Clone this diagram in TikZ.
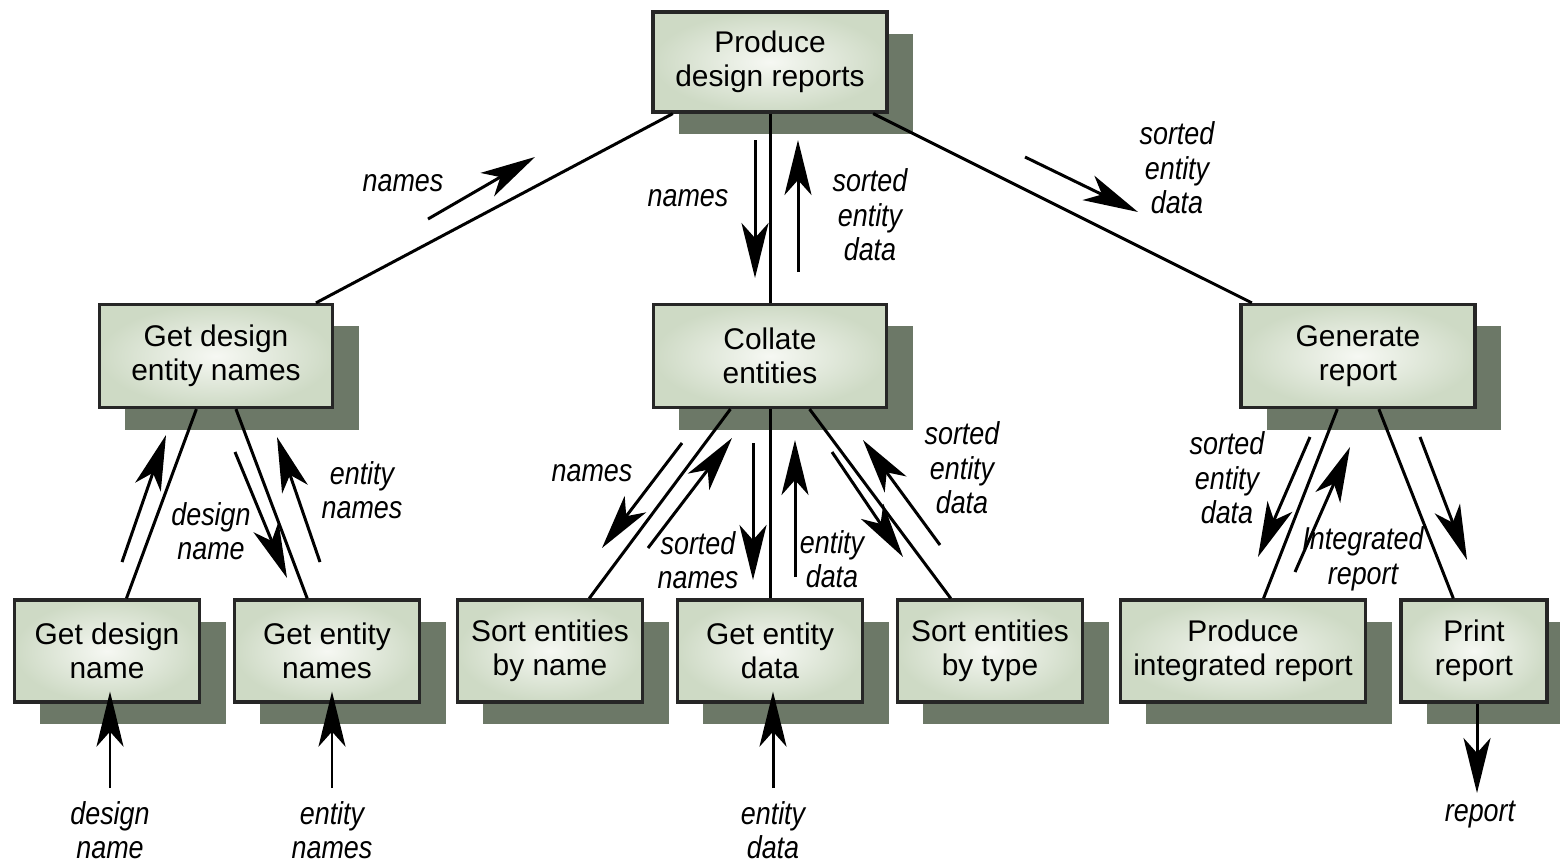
\documentclass[tikz,border=0pt]{standalone}
\usepackage{fontspec}
\setmainfont{Liberation Sans}
\newfontfamily\lblfont{Liberation Sans}[FakeStretch=0.85]
\usetikzlibrary{arrows.meta,shadows}

\definecolor{shadowgreen}{RGB}{108,120,103}
\definecolor{boxin}{RGB}{246,248,243}
\definecolor{boxout}{RGB}{206,218,197}

\tikzset{
  proc/.style={draw=black!85, line width=0.9pt, inner color=boxin, outer color=boxout,
    minimum width=1.85cm, minimum height=1.02cm, align=center,
    font=\fontsize{8.5}{9.7}\selectfont,
    drop shadow={shadow xshift=0.26cm, shadow yshift=-0.22cm, fill=shadowgreen, opacity=1}},
  link/.style={line width=0.85pt},
  flow/.style={line width=0.85pt, -{Stealth[length=0.55cm, width=0.27cm, inset=0.15cm]}},
  lbl/.style={align=center, inner sep=1pt, font=\lblfont\itshape\fontsize{9}{9.8}\selectfont}
}

\begin{document}
\begin{tikzpicture}[x=0.01cm, y=-0.01cm]

\path [use as bounding box] (0,0) rectangle (1560,860);

% BOXES
\node [proc, minimum width=2.34cm, minimum height=1.0cm] (pdr) at (770,62) {Produce\\design reports};

\node [proc, minimum width=2.33cm, minimum height=1.03cm] (gden) at (216,356) {Get design\\entity names};
\node [proc, minimum width=2.33cm, minimum height=1.03cm] (col) at (770,356) {Collate\\entities};
\node [proc, minimum width=2.34cm, minimum height=1.03cm] (gen) at (1358,356) {Generate\\report};

\node [proc] (gdn) at (107,651) {Get design\\name};
\node [proc] (gen2) at (327,651) {Get entity\\names};
\node [proc] (sbn) at (550,651) {Sort entities\\by name};
\node [proc] (ged) at (770,651) {Get entity\\data};
\node [proc] (sbt) at (990,651) {Sort entities\\by type};
\node [proc, minimum width=2.45cm] (pir) at (1243,651) {Produce\\integrated report};
\node [proc, minimum width=1.46cm] (prt) at (1474,651) {Print\\report};

% LINKS
\draw [link] (pdr) -- (gden);
\draw [link] (pdr) -- (col);
\draw [link] (pdr) -- (gen);
\draw [link] (gden) -- (gdn);
\draw [link] (gden) -- (gen2);
\draw [link] (col) -- (sbn);
\draw [link] (col) -- (ged);
\draw [link] (col) -- (sbt);
\draw [link] (gen) -- (pir);
\draw [link] (gen) -- (prt);

% FLOWS, TOP
\draw [flow] (428,219) -- (535,157);
\draw [flow] (755,140) -- (755,278);
\draw [flow] (798,272) -- (798,140);
\draw [flow] (1025,157) -- (1138,212);
\node [lbl] (l1) at (403,183) {names};
\node [lbl] (l2) at (688,198) {names};
\node [lbl] (l3) at (870,215) {sorted\\entity\\data};
\node [lbl] (l4) at (1177,168) {sorted\\entity\\data};

% FLOWS, LEFT
\draw [flow] (122,562) -- (166,435);
\draw [flow] (235,452) -- (287,578);
\draw [flow] (320,562) -- (277,437);
\node [lbl] (l5) at (211,531) {design\\name};
\node [lbl] (l6) at (362,490) {entity\\names};

% FLOWS, MIDDLE
\draw [flow] (682,443) -- (602,548);
\draw [flow] (648,548) -- (732,438);
\draw [flow] (753,443) -- (753,580);
\draw [flow] (795,577) -- (795,440);
\draw [flow] (832,452) -- (903,557);
\draw [flow] (940,545) -- (863,440);
\node [lbl] (l7) at (592,473) {names};
\node [lbl] (l8) at (698,560) {sorted\\names};
\node [lbl] (l9) at (832,559) {entity\\data};
\node [lbl] (l10) at (962,468) {sorted\\entity\\data};

% FLOWS, RIGHT
\draw [flow] (1310,437) -- (1258,557);
\draw [flow] (1295,572) -- (1350,447);
\draw [flow] (1420,437) -- (1467,560);
\node [lbl] (l11) at (1227,478) {sorted\\entity\\data};
\node [lbl] (l12) at (1363,559) {Integrated\\report};

% INPUTS AND OUTPUT
\coordinate (in1) at (110,788);
\coordinate (in2) at (332,788);
\coordinate (in3) at (773,788);
\coordinate (out1) at (1477,793);
\draw [flow, shorten >=-0.12cm] (in1) -- (in1 |- gdn.south);
\draw [flow, shorten >=-0.12cm] (in2) -- (in2 |- gen2.south);
\draw [flow, shorten >=-0.12cm] (in3) -- (in3 |- ged.south);
\draw [flow] (out1 |- prt.south) -- (out1);
\node [lbl] (l13) at (110,830) {design\\name};
\node [lbl] (l14) at (332,830) {entity\\names};
\node [lbl] (l15) at (773,830) {entity\\data};
\node [lbl] (l16) at (1480,815) {report};

\end{tikzpicture}
\end{document}
